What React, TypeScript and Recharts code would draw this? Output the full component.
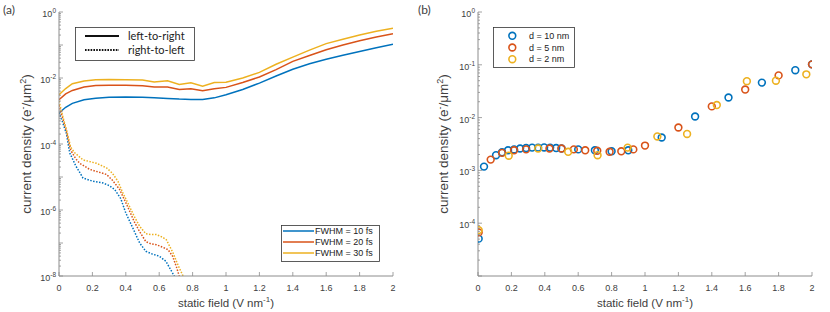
import React from 'react';
import { LineChart, Line, XAxis, YAxis, ScatterChart, Scatter } from 'recharts';

// ---------- shared labels / ticks ----------
const COLORS = ['#0072BD', '#D95319', '#EDB120'];
const fwhmLabels = ['FWHM = 10 fs', 'FWHM = 20 fs', 'FWHM = 30 fs'];
const directionLabels = ['left-to-right', 'right-to-left'];
const thicknessLabels = ['d = 10 nm', 'd = 5 nm', 'd = 2 nm'];
const xTicks = [0, 0.2, 0.4, 0.6, 0.8, 1, 1.2, 1.4, 1.6, 1.8, 2];
const decadesA = [-8, -7, -6, -5, -4, -3, -2, -1, 0];
const labeledDecadesA = [-8, -6, -4, -2, 0];
const decadesB = [-5, -4, -3, -2, -1, 0];
const labeledDecadesB = [-4, -3, -2, -1, 0];

// ---------- panel (a): left-to-right (solid) ----------
const solidX = [0, 0.04, 0.08, 0.15, 0.22, 0.3, 0.4, 0.5, 0.57, 0.65, 0.72, 0.79, 0.86, 0.93, 1.0, 1.1, 1.2, 1.3, 1.4, 1.5, 1.6, 1.7, 1.8, 1.9, 2.0];
const solid10 = [8.7e-4, 1.3e-3, 1.7e-3, 2.2e-3, 2.45e-3, 2.6e-3, 2.65e-3, 2.6e-3, 2.5e-3, 2.4e-3, 2.3e-3, 2.25e-3, 2.25e-3, 2.5e-3, 3.1e-3, 4.5e-3, 7e-3, 1.15e-2, 1.85e-2, 2.7e-2, 3.7e-2, 4.9e-2, 6.4e-2, 8.2e-2, 0.105];
const solid20 = [2.2e-3, 3.3e-3, 4.2e-3, 5.3e-3, 5.9e-3, 6.0e-3, 6.0e-3, 5.8e-3, 5.3e-3, 5.3e-3, 4.5e-3, 4.7e-3, 4.1e-3, 4.7e-3, 5.2e-3, 7.3e-3, 1.07e-2, 1.8e-2, 3.2e-2, 4.8e-2, 7.2e-2, 0.1, 0.135, 0.175, 0.22];
const solid30 = [3.1e-3, 4.8e-3, 6.7e-3, 8.1e-3, 8.9e-3, 9.0e-3, 8.8e-3, 8.7e-3, 7.6e-3, 8.2e-3, 6.4e-3, 7.2e-3, 5.6e-3, 7.3e-3, 7.4e-3, 1.0e-2, 1.48e-2, 2.6e-2, 4.3e-2, 7.0e-2, 0.11, 0.15, 0.2, 0.26, 0.32];

// ---------- panel (a): right-to-left (dotted) ----------
const dotX10 = [0, 0.022, 0.044, 0.064, 0.1, 0.144, 0.2, 0.263, 0.3, 0.333, 0.37, 0.4, 0.44, 0.483, 0.52, 0.56, 0.6, 0.64, 0.69, 0.72];
const dot10 = [9e-4, 4.5e-4, 2.1e-4, 5.4e-5, 2.2e-5, 9.3e-6, 7.5e-6, 6.6e-6, 5.5e-6, 4.2e-6, 2.2e-6, 8.1e-7, 3e-7, 1e-7, 5.6e-8, 4.6e-8, 4e-8, 2.8e-8, 1e-8, 4e-9];
const dotX20 = [0, 0.022, 0.044, 0.07, 0.1, 0.124, 0.184, 0.25, 0.284, 0.32, 0.363, 0.413, 0.45, 0.483, 0.52, 0.55, 0.583, 0.62, 0.653, 0.68, 0.703, 0.72, 0.74];
const dot20 = [1.5e-3, 6e-4, 2.5e-4, 6.5e-5, 3.6e-5, 2.6e-5, 1.7e-5, 1.35e-5, 1.2e-5, 8e-6, 4.2e-6, 1.2e-6, 4.5e-7, 2.2e-7, 1.1e-7, 9.5e-8, 8.9e-8, 7.5e-8, 6.3e-8, 4e-8, 1.9e-8, 1e-8, 5e-9];
const dotX30 = [0, 0.022, 0.044, 0.07, 0.094, 0.144, 0.224, 0.284, 0.32, 0.353, 0.38, 0.413, 0.45, 0.483, 0.52, 0.55, 0.583, 0.62, 0.643, 0.683, 0.715, 0.743, 0.76];
const dot30 = [2e-3, 7e-4, 2.8e-4, 8e-5, 5.4e-5, 3.3e-5, 2.6e-5, 1.9e-5, 1.3e-5, 7.4e-6, 3.5e-6, 1.6e-6, 6.5e-7, 3.2e-7, 1.9e-7, 1.8e-7, 1.8e-7, 1.5e-7, 1.25e-7, 5e-8, 2e-8, 1e-8, 5e-9];

// ---------- panel (b): scatter ----------
const bX10 = [0.004, 0.036, 0.108, 0.144, 0.18, 0.216, 0.252, 0.288, 0.324, 0.36, 0.396, 0.432, 0.468, 0.5, 0.6, 0.7, 0.8, 0.9, 1.1, 1.3, 1.5, 1.7, 1.9, 2.0];
const bY10 = [5.1e-5, 1.18e-3, 1.94e-3, 2.2e-3, 2.4e-3, 2.5e-3, 2.6e-3, 2.65e-3, 2.7e-3, 2.7e-3, 2.72e-3, 2.7e-3, 2.65e-3, 2.6e-3, 2.5e-3, 2.4e-3, 2.3e-3, 2.4e-3, 4.2e-3, 1.05e-2, 2.4e-2, 4.6e-2, 7.9e-2, 0.102];
const bX5 = [0.004, 0.076, 0.144, 0.216, 0.288, 0.428, 0.5, 0.574, 0.642, 0.714, 0.788, 0.858, 0.93, 1.0, 1.2, 1.4, 1.6, 1.8, 2.0];
const bY5 = [6.7e-5, 1.6e-3, 2.15e-3, 2.4e-3, 2.5e-3, 2.6e-3, 2.6e-3, 2.5e-3, 2.4e-3, 2.35e-3, 2.25e-3, 2.3e-3, 2.5e-3, 2.95e-3, 6.5e-3, 1.63e-2, 3.4e-2, 6.3e-2, 0.102];
const bX2 = [0.004, 0.184, 0.36, 0.54, 0.716, 0.896, 1.074, 1.252, 1.43, 1.61, 1.784, 1.966];
const bY2 = [7.4e-5, 1.9e-3, 2.6e-3, 2.25e-3, 1.94e-3, 2.7e-3, 4.4e-3, 4.9e-3, 1.73e-2, 4.9e-2, 5.0e-2, 6.6e-2];

const zip = (xs: number[], ys: number[]) => xs.map((x, i) => ({ x, y: ys[i] }));
const solidSeries = [zip(solidX, solid10), zip(solidX, solid20), zip(solidX, solid30)];
const dottedSeries = [zip(dotX10, dot10), zip(dotX20, dot20), zip(dotX30, dot30)];
const scatterSeries = [zip(bX10, bY10), zip(bX5, bY5), zip(bX2, bY2)];

const logTicks = (decades: number[]) => {
  const out: number[] = [];
  decades.forEach((d, i) => {
    out.push(Math.pow(10, d));
    if (i < decades.length - 1) for (let m = 2; m <= 9; m++) out.push(m * Math.pow(10, d));
  });
  return out;
};
const yTicksA = logTicks(decadesA);
const yTicksB = logTicks(decadesB);

// ---------- styles ----------
const AXIS = '#8c8c8c';
const TEXT = '#404040';
const FONT = '"Liberation Sans", Arial, sans-serif';
const LEGFONT = 'Lato, "Open Sans", sans-serif';

const expOf = (v: number) => Math.round(Math.log10(v));
const isMajor = (v: number) => Math.abs(Math.log10(v) - expOf(v)) < 1e-6;

const makeYTick = (side: 'left' | 'right', labeled: number[]) => (props: any) => {
  const { x, y, payload } = props;
  const v = payload.value;
  const major = isMajor(v);
  const len = major ? 4 : 2;
  const dir = side === 'left' ? 1 : -1;
  const e = expOf(v);
  return (
    <g>
      <line x1={x} x2={x + dir * len} y1={y} y2={y} stroke={AXIS} strokeWidth={0.8} />
      {side === 'left' && major && labeled.includes(e) && (
        <text x={x - 3} y={y + 5} textAnchor="end" fill={TEXT} fontSize={9} fontFamily={FONT}>
          10<tspan dy={-4} fontSize={6.5}>{String(e)}</tspan>
        </text>
      )}
    </g>
  );
};

const makeXTick = (side: 'bottom' | 'top') => (props: any) => {
  const { x, y, payload } = props;
  const dir = side === 'bottom' ? -1 : 1;
  const label = String(Number(payload.value.toFixed(1)));
  return (
    <g>
      <line x1={x} x2={x} y1={y} y2={y + dir * 4} stroke={AXIS} strokeWidth={0.8} />
      {side === 'bottom' && (
        <text x={x} y={y + 14.5} textAnchor="middle" fill={TEXT} fontSize={9} fontFamily={FONT}>
          {label}
        </text>
      )}
    </g>
  );
};

const XLabel = (props: any) => {
  const vb = props.viewBox;
  return (
    <text x={vb.x + vb.width / 2} y={vb.y + 31} textAnchor="middle" fill={TEXT} fontSize={11.5} fontFamily={FONT}>
      static field (V nm<tspan dy={-5} fontSize={8}>-1</tspan><tspan dy={5}>)</tspan>
    </text>
  );
};

const makeYLabel = (dx: number) => (props: any) => {
  const vb = props.viewBox;
  const cx = vb.x + dx;
  const cy = vb.y + vb.height / 2;
  return (
    <text x={cx} y={cy} transform={`rotate(-90 ${cx} ${cy})`} textAnchor="middle" fill={TEXT} fontSize={13.5} fontFamily={FONT}>
      current density (e<tspan dy={-5} fontSize={9}>-</tspan><tspan dy={5}>/μm</tspan><tspan dy={-5} fontSize={9}>2</tspan><tspan dy={5}>)</tspan>
    </text>
  );
};

const CircleShape = (color: string) => (p: any) => (
  <circle cx={p.cx} cy={p.cy} r={3.4} fill="none" stroke={color} strokeWidth={1.6} />
);

function PanelA() {
  return (
    <LineChart width={400} height={312} margin={{ top: 12, right: 7, bottom: 0, left: 0 }}>
      <XAxis type="number" dataKey="x" domain={[0, 2]} ticks={xTicks} allowDataOverflow height={36}
        tickSize={0} tickMargin={0} tickLine={false} axisLine={{ stroke: AXIS }} tick={makeXTick('bottom')}
        label={<XLabel />} interval={0} />
      <XAxis xAxisId="top" orientation="top" type="number" dataKey="x" domain={[0, 2]} ticks={xTicks} allowDataOverflow height={0}
        tickSize={0} tickMargin={0} tickLine={false} axisLine={{ stroke: AXIS }} tick={makeXTick('top')} interval={0} />
      <YAxis type="number" scale="log" domain={[1e-8, 1]} allowDataOverflow ticks={yTicksA} width={59}
        tickSize={0} tickMargin={0} tickLine={false} axisLine={{ stroke: AXIS }} tick={makeYTick('left', labeledDecadesA)}
        interval={0} label={makeYLabel(31)} />
      <YAxis yAxisId="right" orientation="right" type="number" scale="log" domain={[1e-8, 1]} allowDataOverflow ticks={yTicksA} width={0}
        tickSize={0} tickMargin={0} tickLine={false} axisLine={{ stroke: AXIS }} tick={makeYTick('right', labeledDecadesA)} interval={0} />
      {solidSeries.map((d, i) => (
        <Line key={'s' + i} data={d} dataKey="y" type="linear" stroke={COLORS[i]} strokeWidth={1.5} dot={false}
          isAnimationActive={false} name={fwhmLabels[i]} />
      ))}
      {dottedSeries.map((d, i) => (
        <Line key={'d' + i} data={d} dataKey="y" type="linear" stroke={COLORS[i]} strokeWidth={1.5} dot={false}
          strokeDasharray="1.5 1.5" isAnimationActive={false} name={fwhmLabels[i] + ' rtl'} />
      ))}
    </LineChart>
  );
}

function PanelB() {
  return (
    <ScatterChart width={415} height={312} margin={{ top: 12, right: 18, bottom: 0, left: 0 }}>
      <XAxis type="number" dataKey="x" domain={[0, 2]} ticks={xTicks} allowDataOverflow height={36}
        tickSize={0} tickMargin={0} tickLine={false} axisLine={{ stroke: AXIS }} tick={makeXTick('bottom')}
        label={<XLabel />} interval={0} />
      <XAxis xAxisId="top" orientation="top" type="number" dataKey="x" domain={[0, 2]} ticks={xTicks} allowDataOverflow height={0}
        tickSize={0} tickMargin={0} tickLine={false} axisLine={{ stroke: AXIS }} tick={makeXTick('top')} interval={0} />
      <YAxis type="number" dataKey="y" scale="log" domain={[1e-5, 1]} allowDataOverflow ticks={yTicksB} width={63}
        tickSize={0} tickMargin={0} tickLine={false} axisLine={{ stroke: AXIS }} tick={makeYTick('left', labeledDecadesB)}
        interval={0} label={makeYLabel(33)} />
      <YAxis yAxisId="right" orientation="right" type="number" dataKey="y" scale="log" domain={[1e-5, 1]} allowDataOverflow ticks={yTicksB} width={0}
        tickSize={0} tickMargin={0} tickLine={false} axisLine={{ stroke: AXIS }} tick={makeYTick('right', labeledDecadesB)} interval={0} />
      {scatterSeries.map((d, i) => (
        <Scatter key={'b' + i} data={d} fill="none" shape={CircleShape(COLORS[i])} isAnimationActive={false} name={thicknessLabels[i]} />
      ))}
    </ScatterChart>
  );
}

function Legends() {
  return (
    <svg width={830} height={312} style={{ position: 'absolute', left: 0, top: 0, pointerEvents: 'none' }}>
      <text x={3} y={14} fontSize={12} fill={TEXT} fontFamily={LEGFONT}>(a)</text>
      <text x={418} y={14} fontSize={12} fill={TEXT} fontFamily={LEGFONT}>(b)</text>
      {/* direction legend */}
      <rect x={75.5} y={27.5} width={119} height={33} fill="#fff" stroke="#333" strokeWidth={0.8} />
      {directionLabels.map((t, i) => (
        <g key={t}>
          <line x1={85} x2={119} y1={36 + i * 14} y2={36 + i * 14} stroke="#111" strokeWidth={2}
            strokeDasharray={i === 1 ? '1.6 1.2' : undefined} />
          <text x={128} y={40 + i * 14} fontSize={11} fill="#222" fontFamily={LEGFONT}>{t}</text>
        </g>
      ))}
      {/* FWHM legend */}
      <rect x={281.5} y={225.5} width={98} height={36} fill="#fff" stroke="#333" strokeWidth={0.8} />
      {fwhmLabels.map((t, i) => (
        <g key={t}>
          <line x1={283} x2={314} y1={231 + i * 11} y2={231 + i * 11} stroke={COLORS[i]} strokeWidth={1.5} />
          <text x={315} y={234.3 + i * 11} fontSize={9} fill="#222" fontFamily={FONT}>{t}</text>
        </g>
      ))}
      {/* thickness legend */}
      <rect x={493.5} y={27.5} width={81} height={40} fill="#fff" stroke="#333" strokeWidth={0.8} />
      {thicknessLabels.map((t, i) => (
        <g key={t}>
          <circle cx={512.3} cy={35.8 + i * 11.7} r={3.4} fill="none" stroke={COLORS[i]} strokeWidth={1.6} />
          <text x={529} y={39 + i * 11.7} fontSize={9} fill="#222" fontFamily={FONT}>{t}</text>
        </g>
      ))}
    </svg>
  );
}

export default function App() {
  return (
    <div style={{ position: 'absolute', left: 0, top: 0, width: 830, height: 312, background: '#fff' }}>
      <div style={{ position: 'absolute', left: 0, top: 0 }}><PanelA /></div>
      <div style={{ position: 'absolute', left: 415, top: 0 }}><PanelB /></div>
      <Legends />
    </div>
  );
}
